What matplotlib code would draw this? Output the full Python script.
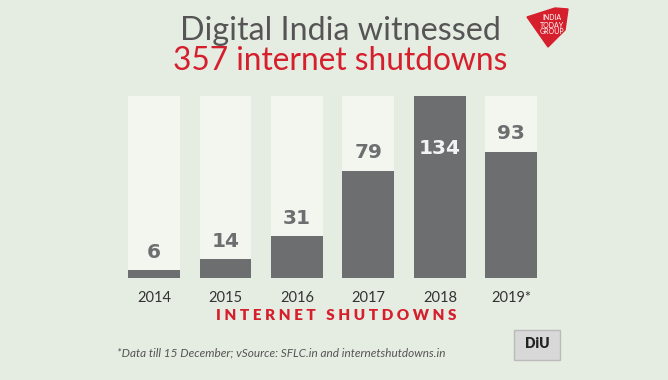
import numpy as np
import matplotlib.pyplot as plt
from matplotlib.patches import Polygon, Rectangle

years = ['2014', '2015', '2016', '2017', '2018', '2019*']
shutdowns = [6, 14, 31, 79, 134, 93]

bg = '#e5ece2'
light = '#f3f6ef'
dark = '#6d6e70'
red = '#d61f2c'

fig = plt.figure(figsize=(6.68, 3.8), dpi=100)
fig.patch.set_facecolor(bg)

W, H = 668, 380
ax = fig.add_axes([120 / W, (H - 278) / H, 425 / W, 182 / H])
ax.set_facecolor(bg)

x = np.arange(len(years))
top = max(shutdowns)
ax.bar(x, [top] * len(x), width=0.727, color=light, zorder=1)
ax.bar(x, shutdowns, width=0.727, color=dark, zorder=2)

for xi, v in zip(x, shutdowns):
    if v == top:
        ax.annotate(str(v), (xi, v), xytext=(0, -45), textcoords='offset points',
                    ha='center', va='bottom', fontsize=14.5, fontweight='bold',
                    family='DejaVu Sans', color='#f3f3f3', zorder=3)
    else:
        ax.annotate(str(v), (xi, v), xytext=(0, 6), textcoords='offset points',
                    ha='center', va='bottom', fontsize=14.5, fontweight='bold',
                    family='DejaVu Sans', color=dark, zorder=3)

ax.set_xlim(-0.476, 5.47)
ax.set_ylim(0, top)
ax.set_xticks(x)
ax.set_xticklabels(years, fontsize=10.5, color='#333333', family='Lato')
ax.tick_params(axis='x', length=0, pad=9)
ax.set_yticks([])
for s in ax.spines.values():
    s.set_visible(False)

# titles
fig.text(340 / W, 1 - 31 / H, 'Digital India witnessed', ha='center', va='center',
         fontsize=23.2, color='#555555', family='Lato')
fig.text(340 / W, 1 - 61 / H, '357 internet shutdowns', ha='center', va='center',
         fontsize=22.8, color=red, family='Lato')

fig.text(336 / W, 1 - 316 / H, 'I N T E R N E T   S H U T D O W N S', ha='center',
         va='center', fontsize=11, color=red, family='Lato', fontweight='heavy')

fig.text(117 / W, 1 - 353 / H,
         '*Data till 15 December; vSource: SFLC.in and internetshutdowns.in',
         ha='left', va='center', fontsize=8.5, color='#555555', family='Lato',
         style='italic')

# India Today logo
logo = Polygon([(527 / W, 1 - 17 / H), (555 / W, 1 - 8 / H), (568 / W, 1 - 9 / H),
                (565 / W, 1 - 30 / H), (548 / W, 1 - 47 / H)],
               closed=True, transform=fig.transFigure, color=red, zorder=5)
fig.patches.append(logo)
for yy, t in [(17, 'INDIA'), (25, 'TODAY'), (32, 'GROUP')]:
    fig.text(552 / W, 1 - yy / H, t, ha='center', va='center', fontsize=5,
             color='white', family='Lato', zorder=6)

# DiU logo
box = Rectangle((514 / W, 1 - 360 / H), 46 / W, 30 / H, transform=fig.transFigure,
                facecolor='#d8d8d8', edgecolor='#bbbbbb', zorder=5)
fig.patches.append(box)
fig.text(537 / W, 1 - 344 / H, 'DiU', ha='center', va='center', fontsize=10,
         fontweight='heavy', color='#222222', family='Lato', zorder=6)

fig.savefig('out.png', dpi=100, facecolor=bg)
